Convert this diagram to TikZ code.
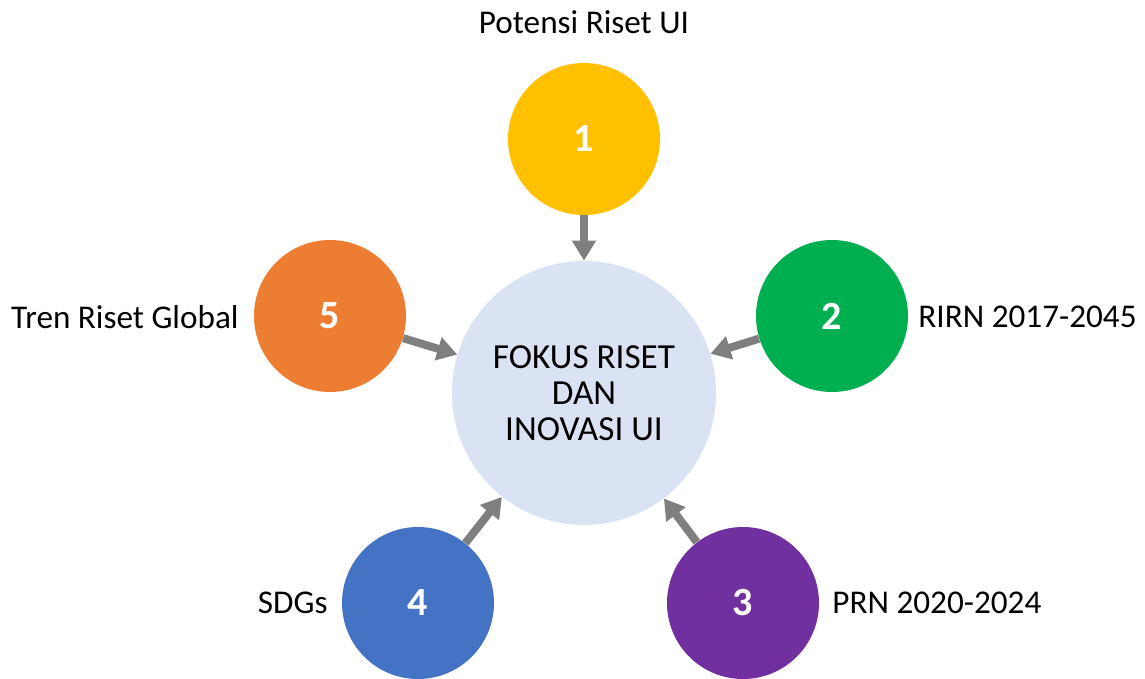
\documentclass[tikz,border=0pt]{standalone}
\usepackage{fontspec}
\setmainfont{Carlito}
\usetikzlibrary{calc,positioning,arrows.meta}

\definecolor{kuning}{HTML}{FFC000}
\definecolor{hijau}{HTML}{00B050}
\definecolor{ungu}{HTML}{7030A0}
\definecolor{biru}{HTML}{4472C4}
\definecolor{oranye}{HTML}{ED7D31}
\definecolor{pusat}{HTML}{DAE3F3}
\definecolor{panah}{HTML}{7F7F7F}

\begin{document}
\begin{tikzpicture}[x=0.5pt,y=-0.5pt,
  bulat/.style={circle,minimum size=76pt,inner sep=0pt,text=white,font=\fontsize{20}{22}\selectfont\bfseries},
  lbl/.style={inner sep=0pt,font=\fontsize{16.6}{19}\selectfont},
  arr/.style={panah,line width=4pt,-{Triangle[width=11.5pt,length=10pt]}}]
\useasboundingbox (0,0) rectangle (1145,679);
% define center circle
\node[circle,fill=pusat,minimum size=132pt,inner sep=0pt,align=center,
  font=\fontsize{17.6}{18}\selectfont] (fokus) at (584,393)
  {FOKUS RISET\\DAN\\INOVASI UI};
% define circles 1 to 5
\node[bulat,fill=kuning] (c1) at (584,139) {1};
\node[bulat,fill=hijau] (c2) at (832,316) {2};
\node[bulat,fill=ungu] (c3) at (743,603) {3};
\node[bulat,fill=biru] (c4) at (418,603) {4};
\node[bulat,fill=oranye] (c5) at (330,316) {5};
% labels
\node[lbl] (t1) at (584,22) {Potensi Riset UI};
\node[lbl,anchor=west] (t2) at (918,317) {RIRN 2017-2045};
\node[lbl,anchor=west] (t3) at (832,603) {PRN 2020-2024};
\node[lbl,anchor=east] (t4) at (328,603) {SDGs};
\node[lbl,anchor=east] (t5) at (239,317) {Tren Riset Global};
% arrows into the center
\foreach \i in {1,...,5}
  \draw[arr] (c\i) -- (fokus);
\end{tikzpicture}
\end{document}
